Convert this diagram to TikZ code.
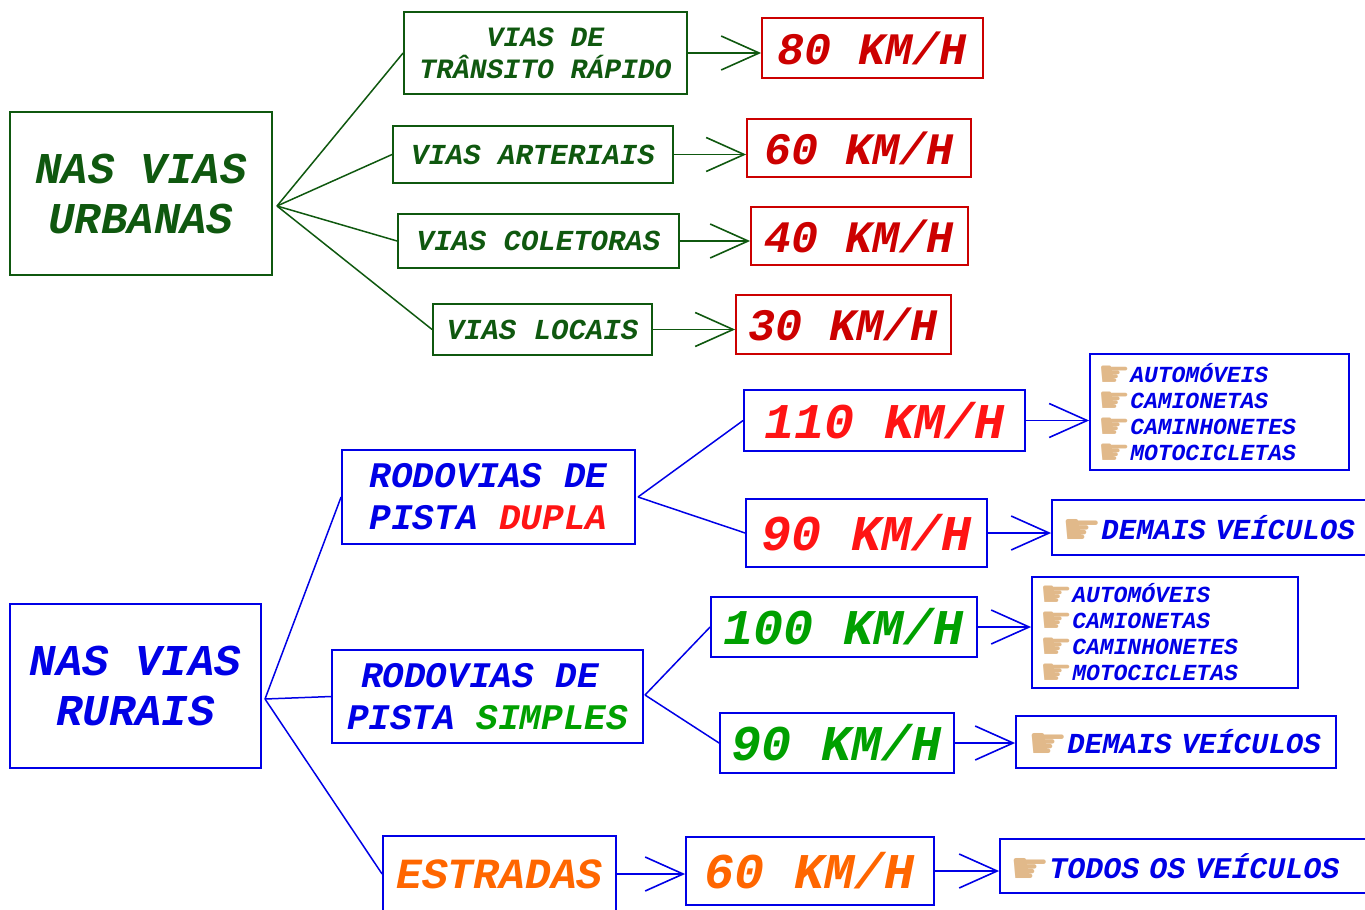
\documentclass[tikz,border=0pt]{standalone}
\usepackage{fontspec}
\setmonofont{Liberation Mono}
\newfontfamily\handfont{DejaVu Sans}
\usetikzlibrary{arrows.meta}
\definecolor{vverde}{RGB}{15,88,15}
\definecolor{vverm}{RGB}{204,0,0}
\definecolor{vazul}{RGB}{0,0,230}
\definecolor{vvermb}{RGB}{255,20,20}
\definecolor{vverdeb}{RGB}{0,160,0}
\definecolor{vlaranja}{RGB}{255,102,0}
\definecolor{maocor}{RGB}{225,185,138}
\newcommand{\fs}[2]{\ttfamily\bfseries\itshape\fontsize{#1}{#2}\selectfont}
\newcommand{\mao}[2]{\smash{\raisebox{-#2pt}{\upshape\mdseries\handfont\fontsize{#1}{#1}\selectfont\color{maocor}☛}}}

\begin{document}
\begin{tikzpicture}[x=1pt,y=-1pt,
  caixa/.style={draw, line width=1.8pt, inner sep=0pt},
  cverde/.style={caixa, draw=vverde, text=vverde},
  cverm/.style={caixa, draw=vverm, text=vverm, font=\fs{45}{50}},
  cazul/.style={caixa, draw=vazul, text=vazul},
  lista/.style={cazul, align=left, inner xsep=8pt, font=\fs{23}{26}},
  liga/.style={line width=1.5pt},
  seta/.style={line width=1.6pt, -{Straight Barb[length=38pt,width=34pt]}}]
\useasboundingbox (0,0) rectangle (1365,910);

\node[cverde, minimum width=262, minimum height=163, align=center, font=\fs{44}{50}] (urb) at (141,193.5) {NAS VIAS\\URBANAS};
\node[cverde, minimum width=283, minimum height=82, align=center, font=\fs{28}{32}] (vtr) at (545.5,53) {VIAS DE\\TRÂNSITO RÁPIDO};
\node[cverde, minimum width=280, minimum height=57, font=\fs{29}{32}] (vart) at (533,154.5) {VIAS ARTERIAIS};
\node[cverde, minimum width=281, minimum height=54, font=\fs{29}{32}] (vcol) at (538.5,241) {VIAS COLETORAS};
\node[cverde, minimum width=219, minimum height=51, font=\fs{29}{32}] (vloc) at (542.5,329.5) {VIAS LOCAIS};
\node[cverm, minimum width=221, minimum height=60] (s80) at (872.5,48) {80 KM/H};
\node[cverm, minimum width=224, minimum height=58] (s60) at (859,148) {60 KM/H};
\node[cverm, minimum width=217, minimum height=58] (s40) at (859.5,236) {40 KM/H};
\node[cverm, minimum width=215, minimum height=59] (s30) at (843.5,324.5) {30 KM/H};
\coordinate (urbR) at (277,206);
\draw[liga, vverde] (urbR) -- (vtr.west);
\draw[liga, vverde] (urbR) -- (vart.west);
\draw[liga, vverde] (urbR) -- (vcol.west);
\draw[liga, vverde] (urbR) -- (vloc.west);
\draw[seta, vverde] (vtr.east) -- (vtr.east -| s80.west);
\draw[seta, vverde] (vart.east) -- (vart.east -| s60.west);
\draw[seta, vverde] (vcol.east) -- (vcol.east -| s40.west);
\draw[seta, vverde] (vloc.east) -- (vloc.east -| s30.west);

\node[cazul, minimum width=251, minimum height=164, align=center, font=\fs{44}{50}] (rur) at (135.5,686) {NAS VIAS\\RURAIS};
\node[cazul, minimum width=293, minimum height=94, align=left, font=\fs{36}{42}] (dupla) at (488.5,497) {RODOVIAS DE\\PISTA \textcolor{vvermb}{DUPLA}};
\node[cazul, minimum width=311, minimum height=93, align=left, font=\fs{36}{42}] (simples) at (487.5,696.5) {\hspace*{14pt}RODOVIAS DE\\PISTA \textcolor{vverdeb}{SIMPLES}};
\node[cazul, minimum width=233, minimum height=76, text=vlaranja, font=\fs{43}{50}] (estr) at (499.5,874) {ESTRADAS};
\node[cazul, minimum width=281, minimum height=61, text=vvermb, font=\fs{50}{55}] (s110) at (884.5,420.5) {110 KM/H};
\node[cazul, minimum width=241, minimum height=68, text=vvermb, font=\fs{50}{55}] (s90a) at (866.5,533) {90 KM/H};
\node[cazul, minimum width=266, minimum height=60, text=vverdeb, font=\fs{50}{55}] (s100) at (844,627) {100 KM/H};
\node[cazul, minimum width=234, minimum height=60, text=vverdeb, font=\fs{50}{55}] (s90b) at (837,743) {90 KM/H};
\node[cazul, minimum width=248, minimum height=68, text=vlaranja, font=\fs{50}{55}] (s60b) at (810,871) {60 KM/H};
\node[lista, text width=243, minimum height=116] (veh1) at (1219.5,412) {\mao{36}{4}AUTOMÓVEIS\\\mao{36}{4}CAMIONETAS\\\mao{36}{4}CAMINHONETES\\\mao{36}{4}MOTOCICLETAS};
\node[lista, text width=250, minimum height=111] (veh2) at (1165,632.5) {\mao{36}{4}AUTOMÓVEIS\\\mao{36}{4}CAMIONETAS\\\mao{36}{4}CAMINHONETES\\\mao{36}{4}MOTOCICLETAS};
\node[lista, text width=303, inner xsep=10pt, minimum height=55, font=\fs{29}{32}] (dem1) at (1213.5,527.5) {\mao{44}{5}DEMAIS VEÍCULOS};
\node[lista, text width=296, inner xsep=12pt, minimum height=52, font=\fs{29}{32}] (dem2) at (1176,742) {\mao{44}{5}DEMAIS VEÍCULOS};
\node[lista, text width=355, inner xsep=10pt, minimum height=54, font=\fs{30}{32}] (todos) at (1187.5,866) {\mao{44}{5}TODOS OS VEÍCULOS};
\coordinate (rurR) at (265,699);
\coordinate (duplaR) at (638,497);
\coordinate (simplesR) at (645,695);
\draw[liga, vazul] (rurR) -- (dupla.west);
\draw[liga, vazul] (rurR) -- (simples.west);
\draw[liga, vazul] (rurR) -- (estr.west);
\draw[liga, vazul] (duplaR) -- (s110.west);
\draw[liga, vazul] (duplaR) -- (s90a.west);
\draw[liga, vazul] (simplesR) -- (s100.west);
\draw[liga, vazul] (simplesR) -- (s90b.west);
\draw[seta, vazul] (estr.east) -- (estr.east -| s60b.west);
\draw[seta, vazul] (s110.east) -- (s110.east -| veh1.west);
\draw[seta, vazul] (s90a.east) -- (s90a.east -| dem1.west);
\draw[seta, vazul] (s100.east) -- (s100.east -| veh2.west);
\draw[seta, vazul] (s90b.east) -- (s90b.east -| dem2.west);
\draw[seta, vazul] (s60b.east) -- (s60b.east -| todos.west);
\end{tikzpicture}
\end{document}
